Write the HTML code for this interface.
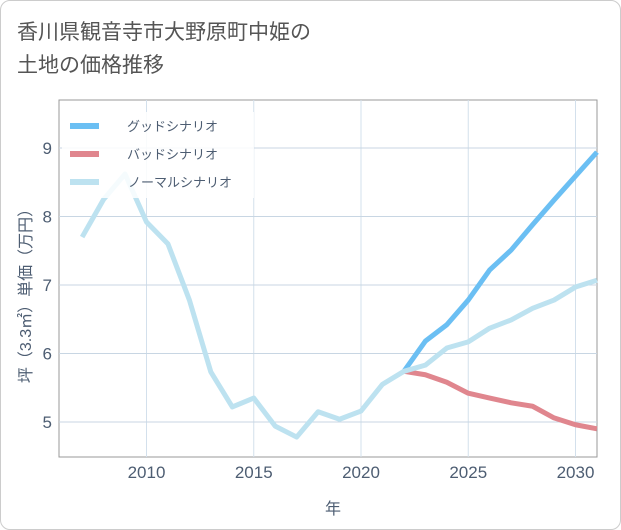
<!DOCTYPE html>
<html><head><meta charset="utf-8"><style>
body{margin:0;background:#fff;font-family:"Liberation Sans","Noto Sans CJK JP",sans-serif;}
#card{position:absolute;left:0;top:0;width:619px;height:528px;border:1px solid #ccc;border-radius:10px;background:#fff;}
#title{position:absolute;left:17px;top:16px;font-size:21px;line-height:33px;color:#555;}
svg{position:absolute;left:0;top:0;}
</style></head><body>
<div id="card"></div>
<div id="title">香川県観音寺市大野原町中姫の<br>土地の価格推移</div>
<svg id="chart" width="621" height="530"></svg>
<script>
const years=[2007,2008,2009,2010,2011,2012,2013,2014,2015,2016,2017,2018,2019,2020,2021,2022,2023,2024,2025,2026,2027,2028,2029,2030,2031];
const normal=[7.70,8.25,8.62,7.92,7.60,6.78,5.73,5.22,5.35,4.94,4.78,5.15,5.04,5.16,5.55,5.74,5.83,6.08,6.17,6.37,6.49,6.66,6.78,6.97,7.07];
const futureYears=[2022,2023,2024,2025,2026,2027,2028,2029,2030,2031];
const good=[5.74,6.18,6.42,6.78,7.22,7.51,7.88,8.24,8.59,8.94];
const bad=[5.74,5.69,5.58,5.42,5.35,5.28,5.23,5.06,4.96,4.90];
const xTicks=[2010,2015,2020,2025,2030];
const yTicks=[5,6,7,8,9];
const L=59,R=597,T=100,B=457;
const x=v=>146.5+(v-2010)*21.45;
const y=v=>422-(v-5)*68.5;
const s=document.getElementById('chart');
const NS='http://www.w3.org/2000/svg';
const TC='#4d5d72';
function mk(t,a){const e=document.createElementNS(NS,t);for(const k in a)e.setAttribute(k,a[k]);s.appendChild(e);return e;}
const bg=mk('rect',{x:L,y:T,width:R-L,height:B-T,fill:'#fff',stroke:'#999','stroke-width':1});


xTicks.forEach(v=>{
 const g=mk('line',{x1:x(v),x2:x(v),y1:T,y2:B,stroke:'#d3e0ec','stroke-width':1});
 
 
 const t=mk('text',{x:x(v),y:478,'text-anchor':'middle','font-size':17,fill:TC});
 t.textContent=v;
 
 
});
yTicks.forEach(v=>{
 const g=mk('line',{x1:L,x2:R,y1:y(v),y2:y(v),stroke:'#c8d6e3','stroke-width':1});
 
 
 const t=mk('text',{x:52,y:y(v)+6,'text-anchor':'end','font-size':17,fill:TC});
 t.textContent=v;
 
 
});
function line(xs,vs,c,n){
 const p=mk('polyline',{points:xs.map((v,i)=>x(v)+','+y(vs[i])).join(' '),fill:'none',stroke:c,'stroke-width':5,'stroke-linejoin':'round'});
 
 
}
line(futureYears,bad,'#e0868e','bad-scenario-line');
line(futureYears,good,'#6bbff3','good-scenario-line');
line(years,normal,'#bde2f0','normal-scenario-line');
const leg=[['グッドシナリオ','#6bbff3'],['バッドシナリオ','#e0868e'],['ノーマルシナリオ','#bde2f0']];
const lb=mk('rect',{x:62,y:112,width:192,height:86,fill:'#fff','fill-opacity':0.85});


leg.forEach((l,i)=>{
 const ly=126+i*28;
 const r=mk('line',{x1:70,x2:99,y1:ly,y2:ly,stroke:l[1],'stroke-width':6});
 
 
 const t=mk('text',{x:i==2?128:127,y:ly+5,'font-size':13,fill:TC});
 t.textContent=l[0];
 
 
});
const xt=mk('text',{x:333,y:514,'text-anchor':'middle','font-size':16,fill:TC});
xt.textContent='年';


const yt=mk('text',{x:0,y:0,'text-anchor':'middle','font-size':16,fill:TC,transform:'translate(31,292) rotate(-90)'});
yt.textContent='坪（3.3㎡）単価（万円）';


</script>
</body></html>
